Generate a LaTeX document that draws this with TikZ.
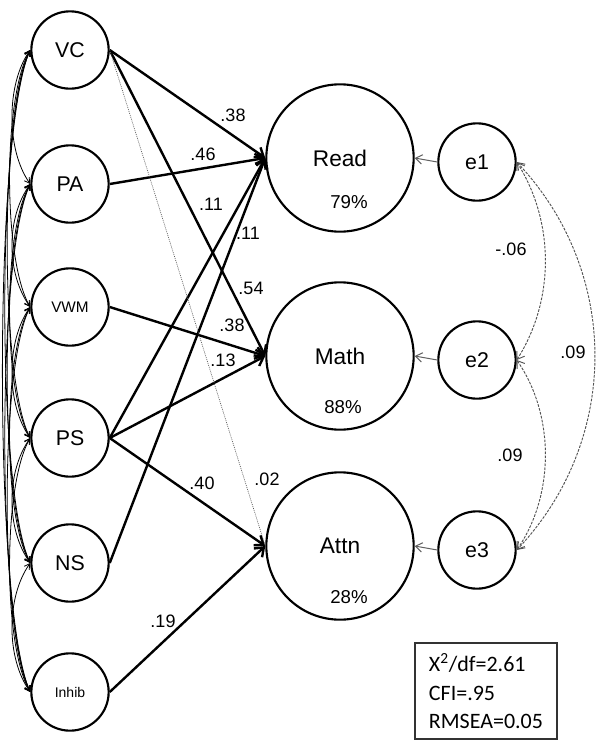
\documentclass[tikz,border=0pt]{standalone}
\usepackage{fontspec}
\setmainfont{Liberation Sans}
\newfontfamily\carlito{Carlito}
\usetikzlibrary{arrows.meta}
\newcommand\myfs[1]{\fontsize{#1}{#1}\selectfont}
\tikzset{
  lat/.style={circle, draw, line width=1.6pt, minimum size=58pt, inner sep=0pt, font=\myfs{16}},
  big/.style={circle, draw, line width=1.6pt, minimum size=110.5pt, inner sep=0pt, font=\myfs{17}},
  coef/.style={font=\myfs{13.5}, inner sep=0pt},
  pct/.style={font=\myfs{14}, inner sep=0pt},
  pathar/.style={line width=1.8pt, -{Straight Barb[length=6pt,width=9pt]}},
  covar/.style={line width=0.6pt, {Straight Barb[length=4pt,width=4.5pt]}-{Straight Barb[length=4pt,width=4.5pt]}},
  resid/.style={draw=gray!75!black, line width=0.75pt, -{Straight Barb[length=5pt,width=7pt]}},
  ecov/.style={draw=gray!65!black, line width=0.7pt, dash pattern=on 2pt off 1pt, {Straight Barb[length=5pt,width=7pt]}-{Straight Barb[length=5pt,width=7pt]}}
}
\begin{document}
\begin{tikzpicture}[x=0.75pt, y=-0.75pt]
\useasboundingbox (0,0) rectangle (602,754);
% exogenous
\node[lat] (VC) at (70,50) {VC};
\node[lat] (PA) at (70,184) {PA};
\node[lat, font=\myfs{11.5}] (VWM) at (70,307) {VWM};
\node[lat] (PS) at (70,438) {PS};
\node[lat] (NS) at (70,563) {NS};
\node[lat, font=\myfs{10.5}] (Inhib) at (70,692) {Inhib};
% outcomes
\node[big] (Read) at (340,158) {Read};
\node[big] (Math) at (340,356) {Math};
\node[big] (Attn) at (340,546) {Attn};
\node[pct] (p1) at (349,202) {79\%};
\node[pct] (p2) at (343,407) {88\%};
\node[pct] (p3) at (349,597) {28\%};
% errors
\node[lat] (e1) at (477,162) {e1};
\node[lat] (e2) at (477,360) {e2};
\node[lat] (e3) at (477,550) {e3};
% paths
\draw[pathar] (VC.east) -- (Read.west);
\draw[pathar] (PA.east) -- (Read.west);
\draw[pathar] (PS.east) -- (Read.west);
\draw[pathar] (NS.east) -- (Read.west);
\draw[pathar] (VC.east) -- (Math.west);
\draw[pathar] (VWM.east) -- (Math.west);
\draw[pathar] (PS.east) -- (Math.west);
\draw[pathar] (PS.east) -- (Attn.west);
\draw[pathar] (Inhib.east) -- (Attn.west);
\draw[gray!70!black, line width=0.5pt, dash pattern=on 0.7pt off 0.8pt] (VC.east) -- (Attn.west);
% coefficients
\node[coef] (c1) at (233,115) {.38};
\node[coef] (c2) at (203,154) {.46};
\node[coef] (c3) at (211,204) {.11};
\node[coef] (c4) at (248,233) {.11};
\node[coef] (c5) at (251,288) {.54};
\node[coef] (c6) at (232,325) {.38};
\node[coef] (c7) at (223,360) {.13};
\node[coef] (c8) at (202,483) {.40};
\node[coef] (c9) at (267,479) {.02};
\node[coef] (c10) at (163,621) {.19};
% residuals
\draw[resid] (e1.west) -- (Read.east);
\draw[resid] (e2.west) -- (Math.east);
\draw[resid] (e3.west) -- (Attn.east);
\draw[ecov] (e1.east) .. controls +(38,60) and +(38,-60) .. (e2.east);
\draw[ecov] (e2.east) .. controls +(38,55) and +(38,-55) .. (e3.east);
\draw[ecov] (e1.east) .. controls +(104,110) and +(104,-110) .. (e3.east);
\node[coef] (c11) at (511,249) {-.06};
\node[coef] (c12) at (573,352) {.09};
\node[coef] (c13) at (510,455) {.09};
% covariances among exogenous
\foreach \a/\b/\s in {VC/PA/1, VC/VWM/2, VC/PS/3, VC/NS/4, VC/Inhib/5,
  PA/VWM/1, PA/PS/2, PA/NS/3, PA/Inhib/4,
  VWM/PS/1, VWM/NS/2, VWM/Inhib/3,
  PS/NS/1, PS/Inhib/2, NS/Inhib/1}{
  \pgfmathsetmacro\dd{21+3.2*\s}
  \pgfmathsetmacro\hh{22+12*\s}
  \draw[covar] (\a.west) .. controls +(-\dd,\hh) and +(-\dd,-\hh) .. (\b.west);
}
% fit box
\node[draw=black!80, line width=0.8pt, align=left, inner xsep=9pt, minimum width=106.5pt, minimum height=72pt, font=\carlito\fontsize{16.5}{21.4}\selectfont] (fit) at (486,691)
  {X\textsuperscript{2}/df=2.61\\CFI=.95\\RMSEA=0.05};
\end{tikzpicture}
\end{document}
